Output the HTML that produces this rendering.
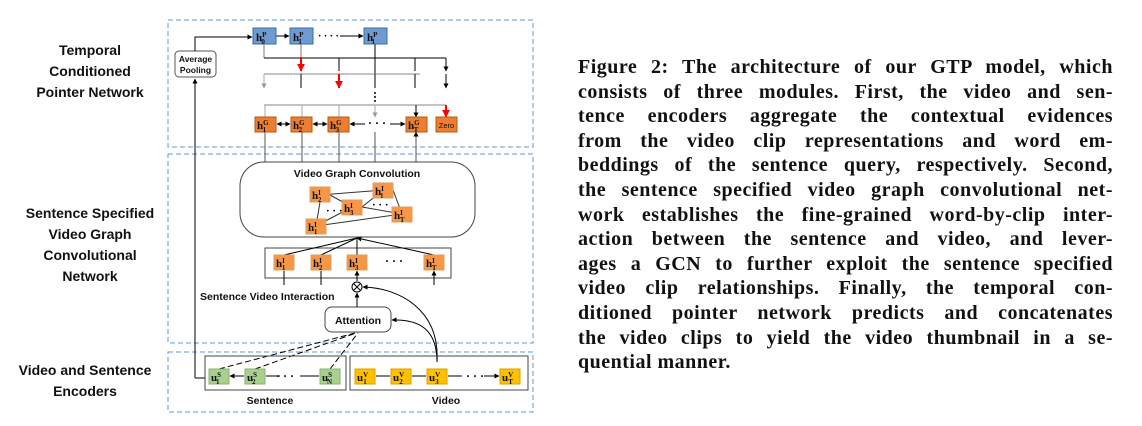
<!DOCTYPE html>
<html><head><meta charset="utf-8"><style>
body{margin:0;width:1142px;height:426px;background:#fff;position:relative;overflow:hidden;font-family:"Liberation Sans",sans-serif}
.cap{position:absolute;left:578px;top:55px;width:535px;font-family:"Liberation Serif",serif;font-size:20px;letter-spacing:0.5px;color:#111}
.cap div{height:24.6px;line-height:24.6px;text-align:justify;text-align-last:justify;white-space:nowrap}
.cap div.l{text-align-last:left}
.lab{position:absolute;font-weight:bold;font-size:14px;text-align:center;line-height:21px;color:#111}
svg text{font-family:"Liberation Serif",serif}
</style></head><body>
<div class="lab" style="left:10px;top:40px;width:160px">Temporal<br>Conditioned<br>Pointer Network</div>
<div class="lab" style="left:10px;top:203px;width:160px">Sentence Specified<br>Video Graph<br>Convolutional<br>Network</div>
<div class="lab" style="left:5px;top:360px;width:160px">Video and Sentence<br>Encoders</div>
<svg width="1142" height="426" style="position:absolute;left:0;top:0">
<defs>
<marker id="a" viewBox="0 0 10 10" refX="9" refY="5" markerWidth="5" markerHeight="5" orient="auto"><path d="M0,0L10,5L0,10z" fill="#000"/></marker>
<marker id="g" viewBox="0 0 10 10" refX="9" refY="5" markerWidth="5" markerHeight="5" orient="auto"><path d="M0,0L10,5L0,10z" fill="#999"/></marker>
<marker id="r" viewBox="0 0 10 10" refX="9" refY="5" markerWidth="4" markerHeight="4" orient="auto"><path d="M0,0L10,5L0,10z" fill="#f00"/></marker>
<marker id="s" viewBox="0 0 10 10" refX="1" refY="5" markerWidth="5" markerHeight="5" orient="auto"><path d="M10,0L0,5L10,10z" fill="#000"/></marker>
</defs>
<g fill="none" stroke="#5b9bd5" stroke-dasharray="5,3" stroke-width="1">
<rect x="168" y="20" width="365" height="127"/>
<rect x="168" y="154" width="365" height="189"/>
<rect x="168" y="352" width="365" height="60"/>
</g>
<g stroke="#000" fill="none" stroke-width="1">
<rect x="175" y="51" width="41" height="26" rx="4" stroke="#555"/>
<path d="M195 51V37H252" marker-end="url(#a)"/>
<path d="M195 378V79" marker-end="url(#a)"/>
<path d="M195 378H205"/>
<path d="M276 36H289" marker-end="url(#a)"/>
<path d="M340 36H363" marker-end="url(#a)"/>
<path d="M264 44V58M301 44V58" stroke="#777"/>
<path d="M375 44V88"/>
<path d="M264 58H446"/>
<path d="M339 58V71M375 58V71M415 58V71M446 58V71" marker-end="url(#a)"/>
<path d="M264 74H420" stroke="#888"/>
<path d="M264 74V88" stroke="#aaa" marker-end="url(#g)"/>
<path d="M301 74V88M375 74V88M415 74V88M446 74V88" marker-end="url(#a)"/>
<path d="M264 105H446" stroke="#888"/>
<path d="M265 105V117M302 105V117M339 105V117M375 105V117" stroke="#aaa" marker-end="url(#g)"/>
<path d="M416 105V117" marker-end="url(#a)"/>
<path d="M277 124H290" marker-start="url(#s)" marker-end="url(#a)"/>
<path d="M313 124H327" marker-start="url(#s)" marker-end="url(#a)"/>
<path d="M350 124H365M390 124H405" marker-start="url(#s)" marker-end="url(#a)"/>
<path d="M265 162V132M302 162V132M339 162V132M375 162V132M416 162V132" stroke="#555" marker-end="url(#a)"/>
<rect x="240" y="162" width="235" height="75" rx="24" stroke="#444"/>
<path d="M320 195L383 190M330 195L352 207M362 207L383 190M362 207L402 214M393 190L402 214M316 226L320 202M316 226L352 207M316 226L402 214" stroke="#333"/>
<rect x="265" y="248" width="186" height="30" stroke="#444"/>
<path d="M284 255L357 238M321 255L357 238M357 255V238M434 255L357 238" marker-end="url(#a)"/>
<path d="M284 285V271M321 285V271M434 285V271" marker-end="url(#a)"/>
<path d="M357 281V271" marker-end="url(#a)"/>
<circle cx="357" cy="287" r="5"/>
<path d="M354 284L360 290M360 284L354 290"/>
<rect x="325" y="307" width="66" height="25" rx="7" stroke="#444"/>
<path d="M357 307V293" marker-end="url(#a)"/>
<path d="M437 362C437 330 420 319 392 320" marker-end="url(#a)"/>
<path d="M437 362C440 310 400 288 363 287" marker-end="url(#a)"/>
<path d="M219 369L355 333M255 369L356 333M330 369L358 333" stroke-dasharray="6,3"/>
<rect x="205" y="356" width="141" height="34" stroke="#444"/>
<rect x="350" y="356" width="178" height="34" stroke="#444"/>
<path d="M230 376H244M266 376H280M300 376H319M376 376H390M412 376H426M448 376H462M484 376H499" marker-start="url(#s)" marker-end="url(#a)"/>
</g>
<g fill="#000" font-weight="bold">
<text x="318" y="39" font-size="10">· · · ·</text>
<text x="368" y="127" font-size="12">· · ·</text>
<text x="326" y="214" font-size="11">· · ·</text>
<text x="372" y="208" font-size="11">· · ·</text>
<text x="385" y="265" font-size="12">· · ·</text>
<text x="276" y="380" font-size="12">· · ·</text>
<text x="466" y="380" font-size="12">· · ·</text>
</g>
<g fill="#000"><circle cx="375" cy="93" r="1"/><circle cx="375" cy="97" r="1"/><circle cx="375" cy="101" r="1"/></g>
<g stroke="#f00" stroke-width="2" fill="none">
<path d="M301 58V71" marker-end="url(#r)"/>
<path d="M339 74V88" marker-end="url(#r)"/>
<path d="M446 105V117" marker-end="url(#r)"/>
</g>
<g stroke="#3a6ea5" fill="#6f9bd1">
<rect x="253" y="28" width="23" height="16"/><rect x="290" y="28" width="23" height="16"/><rect x="364" y="28" width="23" height="16"/>
</g>
<g stroke="#b45a10" fill="#ed7d31">
<rect x="255" y="117" width="21" height="15"/><rect x="291" y="117" width="21" height="15"/><rect x="328" y="117" width="21" height="15"/><rect x="406" y="117" width="21" height="15"/><rect x="436" y="117" width="21" height="15"/>
</g>
<g stroke="#d9a060" fill="#f79646">
<rect x="310" y="187" width="20" height="15"/><rect x="373" y="183" width="20" height="15"/><rect x="342" y="200" width="20" height="15"/><rect x="392" y="207" width="20" height="15"/><rect x="306" y="219" width="20" height="15"/>
<rect x="274" y="255" width="20" height="15"/><rect x="311" y="255" width="20" height="15"/><rect x="347" y="255" width="20" height="15"/><rect x="424" y="255" width="20" height="15"/>
</g>
<g fill="#a9d18e" stroke="#8db070"><rect x="209" y="369" width="20" height="15"/><rect x="245" y="369" width="20" height="15"/><rect x="320" y="369" width="20" height="15"/></g>
<g fill="#ffc000" stroke="#d9a000"><rect x="355" y="369" width="20" height="15"/><rect x="391" y="369" width="20" height="15"/><rect x="427" y="369" width="20" height="15"/><rect x="500" y="369" width="20" height="15"/></g>
<g font-size="11" font-weight="bold" fill="#111">
<text x="256" y="41">h<tspan font-size="7" dy="-4">P</tspan><tspan font-size="7" dx="-5" dy="7">0</tspan></text>
<text x="293" y="41">h<tspan font-size="7" dy="-4">P</tspan><tspan font-size="7" dx="-5" dy="7">1</tspan></text>
<text x="367" y="41">h<tspan font-size="7" dy="-4">P</tspan><tspan font-size="7" dx="-5" dy="7">l</tspan></text>
<text x="257" y="129">h<tspan font-size="7" dy="-4">G</tspan><tspan font-size="7" dx="-6" dy="7">1</tspan></text>
<text x="293" y="129">h<tspan font-size="7" dy="-4">G</tspan><tspan font-size="7" dx="-6" dy="7">2</tspan></text>
<text x="330" y="129">h<tspan font-size="7" dy="-4">G</tspan><tspan font-size="7" dx="-6" dy="7">3</tspan></text>
<text x="408" y="129">h<tspan font-size="7" dy="-4">G</tspan><tspan font-size="7" dx="-6" dy="7">T</tspan></text>
<text x="312" y="199">h<tspan font-size="7" dy="-4">I</tspan><tspan font-size="7" dx="-3" dy="7">2</tspan></text>
<text x="375" y="195">h<tspan font-size="7" dy="-4">I</tspan><tspan font-size="7" dx="-3" dy="7">l</tspan></text>
<text x="344" y="212">h<tspan font-size="7" dy="-4">I</tspan><tspan font-size="7" dx="-3" dy="7">3</tspan></text>
<text x="394" y="219">h<tspan font-size="7" dy="-4">I</tspan><tspan font-size="7" dx="-3" dy="7">T</tspan></text>
<text x="308" y="231">h<tspan font-size="7" dy="-4">I</tspan><tspan font-size="7" dx="-3" dy="7">1</tspan></text>
<text x="276" y="267">h<tspan font-size="7" dy="-4">I</tspan><tspan font-size="7" dx="-3" dy="7">1</tspan></text>
<text x="313" y="267">h<tspan font-size="7" dy="-4">I</tspan><tspan font-size="7" dx="-3" dy="7">2</tspan></text>
<text x="349" y="267">h<tspan font-size="7" dy="-4">I</tspan><tspan font-size="7" dx="-3" dy="7">3</tspan></text>
<text x="426" y="267">h<tspan font-size="7" dy="-4">I</tspan><tspan font-size="7" dx="-3" dy="7">T</tspan></text>
<text x="211" y="381">u<tspan font-size="7" dy="-4">S</tspan><tspan font-size="7" dx="-5" dy="7">1</tspan></text>
<text x="247" y="381">u<tspan font-size="7" dy="-4">S</tspan><tspan font-size="7" dx="-5" dy="7">2</tspan></text>
<text x="322" y="381">u<tspan font-size="7" dy="-4">S</tspan><tspan font-size="7" dx="-5" dy="7">N</tspan></text>
<text x="357" y="381">u<tspan font-size="7" dy="-4">V</tspan><tspan font-size="7" dx="-5" dy="7">1</tspan></text>
<text x="393" y="381">u<tspan font-size="7" dy="-4">V</tspan><tspan font-size="7" dx="-5" dy="7">2</tspan></text>
<text x="429" y="381">u<tspan font-size="7" dy="-4">V</tspan><tspan font-size="7" dx="-5" dy="7">3</tspan></text>
<text x="502" y="381">u<tspan font-size="7" dy="-4">V</tspan><tspan font-size="7" dx="-5" dy="7">T</tspan></text>
</g>
<g font-weight="bold" fill="#111">
<text x="195.5" y="62" font-size="8.5" text-anchor="middle" style="font-family:'Liberation Sans'">Average</text>
<text x="195.5" y="73" font-size="8.5" text-anchor="middle" style="font-family:'Liberation Sans'">Pooling</text>
<text x="446.5" y="128" font-size="7.5" text-anchor="middle" font-weight="normal" style="font-family:'Liberation Sans'">Zero</text>
<text x="357" y="177" font-size="10.5" text-anchor="middle" style="font-family:'Liberation Sans'">Video Graph Convolution</text>
<text x="200" y="300" font-size="10.5" style="font-family:'Liberation Sans'">Sentence Video Interaction</text>
<text x="358" y="324" font-size="10.5" text-anchor="middle" style="font-family:'Liberation Sans'">Attention</text>
<text x="270" y="404" font-size="10.5" text-anchor="middle" style="font-family:'Liberation Sans'">Sentence</text>
<text x="446" y="404" font-size="10.5" text-anchor="middle" style="font-family:'Liberation Sans'">Video</text>
</g>
</svg>
<div class="cap">
<div><b>Figure 2: The architecture of our GTP model, which</b></div>
<div><b>consists of three modules. First, the video and sen-</b></div>
<div><b>tence encoders aggregate the contextual evidences</b></div>
<div><b>from the video clip representations and word em-</b></div>
<div><b>beddings of the sentence query, respectively. Second,</b></div>
<div><b>the sentence specified video graph convolutional net-</b></div>
<div><b>work establishes the fine-grained word-by-clip inter-</b></div>
<div><b>action between the sentence and video, and lever-</b></div>
<div><b>ages a GCN to further exploit the sentence specified</b></div>
<div><b>video clip relationships. Finally, the temporal con-</b></div>
<div><b>ditioned pointer network predicts and concatenates</b></div>
<div><b>the video clips to yield the video thumbnail in a se-</b></div>
<div class="l"><b>quential manner.</b></div>
</div>
</body></html>
